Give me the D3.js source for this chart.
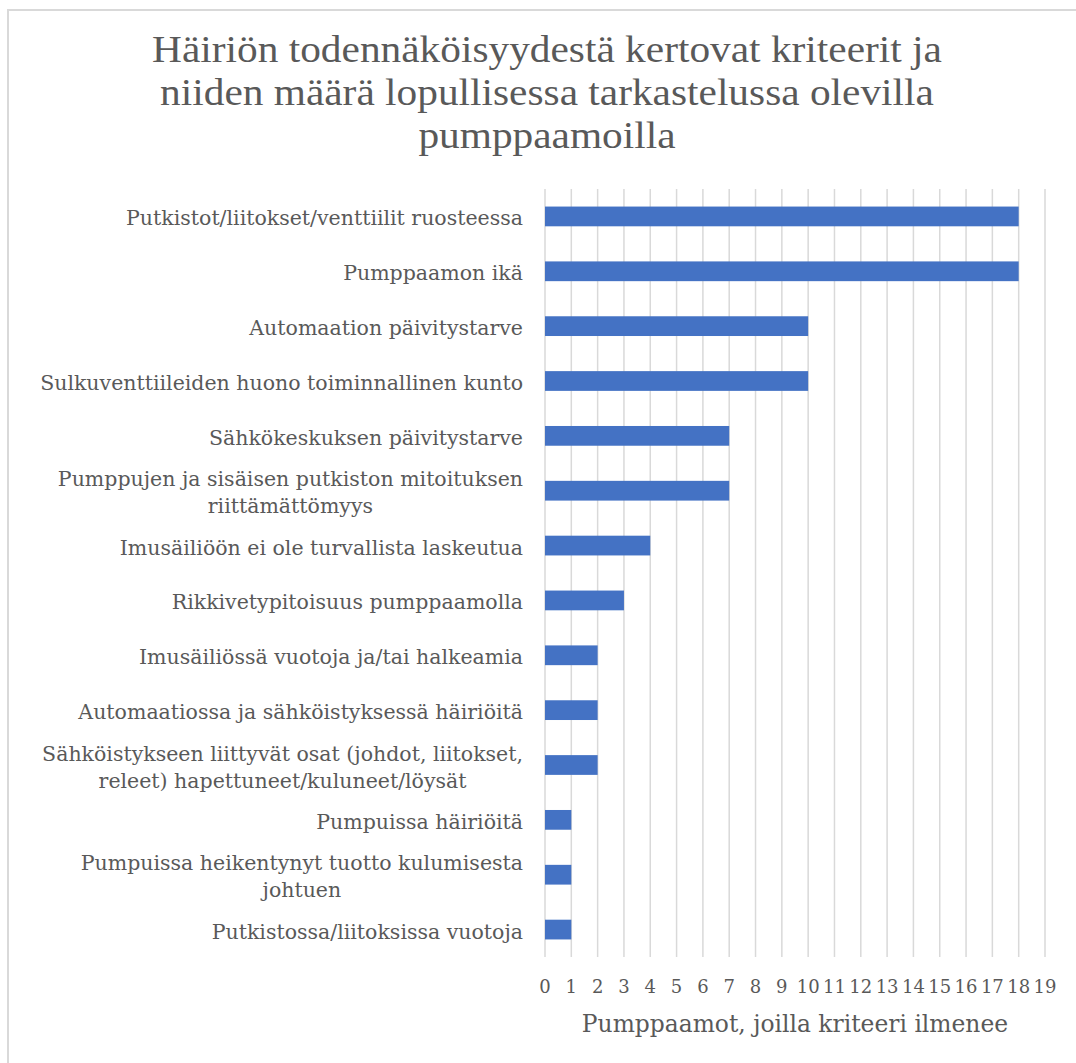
<!DOCTYPE html>
<html>
<head>
<meta charset="utf-8">
<script src="https://cdn.jsdelivr.net/npm/d3@7"></script>
<style>
  body { margin: 0; background: #fff; }
  text { font-family: "DejaVu Serif", "Liberation Serif", serif; fill: #595959; }
</style>
</head>
<body>
<svg id="mainsvg" width="1076" height="1063"></svg>
<script>
// data
const categories = [
  ['Putkistot/liitokset/venttiilit ruosteessa'],
  ['Pumppaamon ikä'],
  ['Automaation päivitystarve'],
  ['Sulkuventtiileiden huono toiminnallinen kunto'],
  ['Sähkökeskuksen päivitystarve'],
  ['Pumppujen ja sisäisen putkiston mitoituksen', 'riittämättömyys'],
  ['Imusäiliöön ei ole turvallista laskeutua'],
  ['Rikkivetypitoisuus pumppaamolla'],
  ['Imusäiliössä vuotoja ja/tai halkeamia'],
  ['Automaatiossa ja sähköistyksessä häiriöitä'],
  ['Sähköistykseen liittyvät osat (johdot, liitokset,', 'releet) hapettuneet/kuluneet/löysät'],
  ['Pumpuissa häiriöitä'],
  ['Pumpuissa heikentynyt tuotto kulumisesta', 'johtuen'],
  ['Putkistossa/liitoksissa vuotoja']
]
const values = [18, 18, 10, 10, 7, 7, 4, 3, 2, 2, 2, 1, 1, 1]
const xTicks = d3.range(0, 20)
const titleLines = ['Häiriön todennäköisyydestä kertovat kriteerit ja',
                    'niiden määrä lopullisessa tarkastelussa olevilla',
                    'pumppaamoilla']
const xTitle = 'Pumppaamot, joilla kriteeri ilmenee'

const svg = d3.select('#mainsvg')

// chart frame (only top/left edges visible in the crop)
svg.append('path')
  .attr('d', 'M8,1063 L8,10 L1076,10')
  .attr('fill', 'none')
  .attr('stroke', '#d9d9d9')
  .attr('stroke-width', 2)

// title, fitted to the width of the first line in the picture
const titleG = svg.append('g')
const title = titleG.append('text')
  .attr('text-anchor', 'middle')
  .style('font-family', '"Liberation Serif", serif')
  .style('font-size', '38px')
title.selectAll('tspan').data(titleLines).join('tspan')
  .attr('x', 0)
  .attr('y', (d, i) => 62 + i * 43)
  .text(d => d)
let firstW = title.select('tspan').node().getComputedTextLength()
titleG.attr('transform', `translate(547,0) scale(${790 / firstW},1)`)

const plot = {left: 545, right: 1045, top: 189, bottom: 957}

const x = d3.scaleLinear().domain([0, 19]).range([plot.left, plot.right])
const y = d3.scaleBand().domain(d3.range(categories.length))
  .range([plot.top, plot.bottom]).paddingInner(0.64).paddingOuter(0.32)

// gridlines
svg.append('g').selectAll('line').data(xTicks).join('line')
  .attr('x1', d => x(d)).attr('x2', d => x(d))
  .attr('y1', plot.top).attr('y2', plot.bottom)
  .attr('stroke', '#d9d9d9')
  .attr('stroke-width', 1.5)

// bars
svg.append('g').selectAll('rect').data(values).join('rect')
  .attr('x', x(0))
  .attr('y', (d, i) => y(i))
  .attr('width', d => x(d) - x(0))
  .attr('height', y.bandwidth())
  .attr('fill', '#4472c4')

// category labels: block right aligned, wrapped lines centred in the block
let labelRight = 523
svg.append('g').selectAll('g').data(categories).join('g')
  .attr('transform', (d, i) => `translate(0,${y(i) + y.bandwidth() / 2})`)
  .each(function(lines) {
    const g = d3.select(this)
    const ts = g.selectAll('text').data(lines).join('text')
      .style('font-size', '20.5px')
      .attr('y', (d, j) => (j - (lines.length - 1) / 2) * 27 + 9)
      .text(d => d)
    let maxW = d3.max(ts.nodes(), n => n.getComputedTextLength())
    ts.attr('text-anchor', 'middle').attr('x', labelRight - maxW / 2)
  })

// x axis tick labels
svg.append('g').selectAll('text').data(xTicks).join('text')
  .attr('x', d => x(d)).attr('y', 993)
  .attr('text-anchor', 'middle')
  .style('font-size', '18px')
  .text(d => d)

// axis title
svg.append('text')
  .attr('x', (plot.left + plot.right) / 2).attr('y', 1032)
  .attr('text-anchor', 'middle')
  .style('font-size', '23.4px')
  .text(xTitle)
</script>
</body>
</html>
